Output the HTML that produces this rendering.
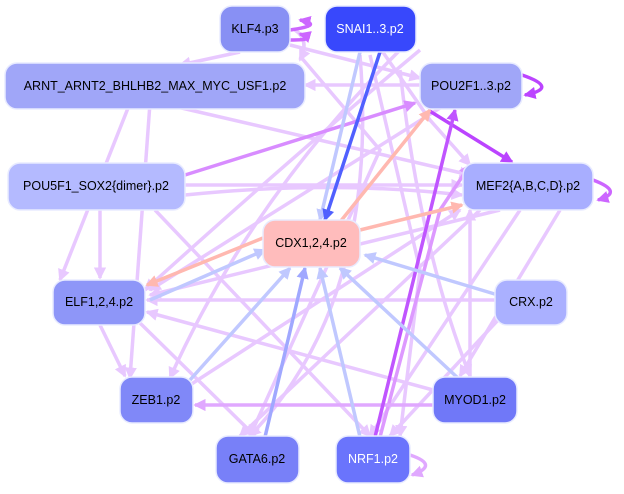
<!DOCTYPE html>
<html><head><meta charset="utf-8"><style>
body{margin:0;background:#fff;width:624px;height:489px;overflow:hidden}
text{font-family:"Liberation Sans",sans-serif;font-size:12.5px;text-anchor:middle;dominant-baseline:central}
</style></head><body>
<svg width="624" height="489" viewBox="0 0 624 489" xmlns="http://www.w3.org/2000/svg">
<defs>
<marker id="a" markerWidth="3.5" markerHeight="3.5" refX="3" refY="1.75" orient="auto" markerUnits="strokeWidth"><path d="M0,0L3.5,1.75L0,3.5z" fill="context-stroke"/></marker>
</defs>
<g fill="none" stroke-width="3.5" marker-end="url(#a)">
<g stroke="#e8c8ff">
<path d="M295,30 Q310,40 300,60"/>
<path d="M290,45 L420,78"/>
<path d="M420,85 L305,85"/>
<path d="M380,48 L430,120 L470,165"/>
<path d="M240,52 L180,65"/>
<path d="M160,103 L470,175"/>
<path d="M185,185 L462,185"/>
<path d="M185,195 Q330,180 462,195"/>
<path d="M440,108 L150,290"/>
<path d="M500,210 L150,295"/>
<path d="M498,300 L147,300"/>
<path d="M433,390 L147,312"/>
<path d="M100,210 L100,278"/>
<path d="M100,325 L125,376"/>
<path d="M140,323 L255,436"/>
<path d="M155,210 L370,436"/>
<path d="M150,103 L130,378"/>
<path d="M420,50 Q300,150 145,290"/>
<path d="M400,50 Q250,200 170,378"/>
<path d="M480,210 L240,436"/>
<path d="M520,210 L370,436"/>
<path d="M560,210 L460,376"/>
<path d="M400,70 Q420,250 470,376"/>
<path d="M370,55 L420,270 L400,436"/>
<path d="M190,385 L460,210"/>
<path d="M498,320 L390,436"/>
<path d="M360,55 Q380,300 250,436"/>
<path d="M130,103 L60,280"/>
<path d="M470,380 L470,210"/>
<path d="M300,56 L380,150 L250,436"/>
</g>
<path d="M185,175 L415,103" stroke="#d88cff"/>
<path d="M380,437 L440,210 L470,165" stroke="#dd99ff"/>
<path d="M470,405 L195,405" stroke="#e0a8ff"/>
<path d="M290,30 Q325,25 300,20" stroke="#cc66ff"/>
<path d="M290,40 Q320,40 300,34" stroke="#cc66ff"/>
<path d="M522,75 Q560,88 525,95" stroke="#bb44ff"/>
<path d="M593,180 Q625,192 598,200" stroke="#cc66ff"/>
<path d="M410,455 Q440,465 412,475" stroke="#e0a8ff"/>
<path d="M428,110 L512,162" stroke="#bb44ff"/>
<path d="M375,437 L455,110" stroke="#c055ff"/>
<g stroke="#ffb8b0">
<path d="M340,222 L430,110"/>
<path d="M360,230 L462,205"/>
<path d="M263,238 L147,285"/>
</g>
<g stroke="#c0c8ff">
<path d="M498,295 L365,255"/>
<path d="M460,380 L340,268"/>
<path d="M360,437 L320,268"/>
<path d="M190,380 L290,268"/>
<path d="M150,300 L265,250"/>
<path d="M360,52 L320,220"/>
</g>
<path d="M265,437 L305,268" stroke="#a0a8ff"/>
<path d="M380,52 L325,220" stroke="#5060ff"/>
</g>
<g stroke="#e8ebff" stroke-width="1.5">
<rect x="220" y="6" width="70" height="46" rx="12" fill="#8890f4"/>
<rect x="325" y="6" width="91" height="46" rx="12" fill="#3848fc"/>
<rect x="5" y="63" width="300" height="46" rx="12" fill="#a0a6f8"/>
<rect x="420" y="63" width="102" height="46" rx="12" fill="#a0a6f8"/>
<rect x="8" y="163" width="177" height="47" rx="12" fill="#b4baff"/>
<rect x="463" y="163" width="130" height="47" rx="12" fill="#a8aeff"/>
<rect x="263" y="220" width="97" height="47" rx="12" fill="#ffbcbc"/>
<rect x="53" y="280" width="92" height="45" rx="12" fill="#8e96f8"/>
<rect x="495" y="280" width="72" height="45" rx="12" fill="#aab0ff"/>
<rect x="120" y="377" width="73" height="46" rx="12" fill="#8088f8"/>
<rect x="433" y="377" width="84" height="46" rx="12" fill="#7078f8"/>
<rect x="216" y="436" width="83" height="47" rx="12" fill="#7880f8"/>
<rect x="336" y="436" width="74" height="47" rx="12" fill="#6a74fc"/>
</g>
<text x="255" y="29">KLF4.p3</text>
<text x="370" y="29" fill="#fff">SNAI1..3.p2</text>
<text x="155" y="86">ARNT_ARNT2_BHLHB2_MAX_MYC_USF1.p2</text>
<text x="471" y="86">POU2F1..3.p2</text>
<text x="96" y="186">POU5F1_SOX2{dimer}.p2</text>
<text x="528" y="186">MEF2{A,B,C,D}.p2</text>
<text x="311" y="243">CDX1,2,4.p2</text>
<text x="99" y="302">ELF1,2,4.p2</text>
<text x="531" y="302">CRX.p2</text>
<text x="156" y="400">ZEB1.p2</text>
<text x="475" y="400">MYOD1.p2</text>
<text x="257" y="459">GATA6.p2</text>
<text x="373" y="459" fill="#fff">NRF1.p2</text>
</svg>
</body></html>
